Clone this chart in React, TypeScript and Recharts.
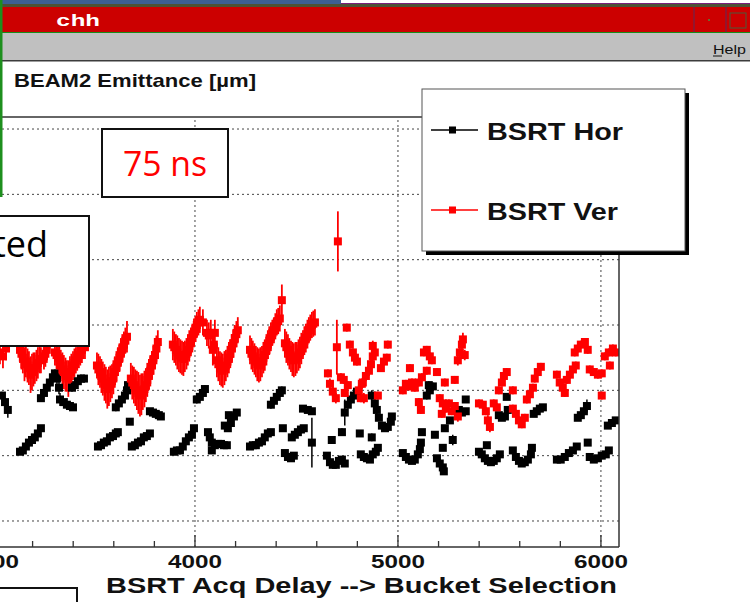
import React from 'react';
import { ScatterChart, Scatter, XAxis, YAxis, ErrorBar, ReferenceLine } from 'recharts';

// [delay, emittance (um), error]
const horPoints: [number, number, number][] = [
  [3049, 1.96, 0.03], [3064, 1.91, 0.03], [3078, 1.85, 0.06],
  [3138, 1.53, 0.02], [3152, 1.54, 0.02], [3167, 1.57, 0.02], [3182, 1.6, 0.02], [3197, 1.62, 0.02], [3211, 1.64, 0.02], [3226, 1.67, 0.02], [3241, 1.71, 0.02],
  [3241, 1.94, 0.03], [3256, 1.98, 0.03], [3270, 2.02, 0.03], [3285, 2.06, 0.03], [3300, 2.1, 0.03], [3310, 2.13, 0.03], [3320, 2.09, 0.05], [3330, 2.02, 0.05], [3335, 1.93, 0.05],
  [3354, 1.91, 0.02], [3369, 1.89, 0.02], [3384, 1.88, 0.02], [3399, 1.87, 0.02],
  [3394, 2.02, 0.03], [3408, 2.04, 0.03], [3423, 2.07, 0.03], [3438, 2.09, 0.03], [3453, 2.09, 0.03],
  [3522, 1.57, 0.02], [3537, 1.58, 0.02], [3551, 1.6, 0.02], [3566, 1.61, 0.02], [3581, 1.64, 0.02], [3596, 1.65, 0.02], [3610, 1.67, 0.02], [3620, 1.68, 0.02],
  [3610, 1.87, 0.03], [3625, 1.9, 0.03], [3640, 1.93, 0.03], [3655, 1.96, 0.03], [3665, 2.0, 0.03], [3670, 2.04, 0.03], [3679, 1.76, 0.02],
  [3689, 1.57, 0.02], [3704, 1.58, 0.02], [3719, 1.6, 0.02], [3734, 1.61, 0.02], [3748, 1.64, 0.02], [3763, 1.65, 0.02], [3778, 1.67, 0.02],
  [3778, 1.84, 0.02], [3793, 1.83, 0.02], [3807, 1.82, 0.02], [3822, 1.81, 0.02], [3832, 1.8, 0.02],
  [3896, 1.53, 0.02], [3911, 1.54, 0.02], [3926, 1.54, 0.02], [3940, 1.57, 0.02], [3955, 1.61, 0.02], [3970, 1.64, 0.02], [3985, 1.66, 0.02], [3995, 1.71, 0.02],
  [4009, 1.93, 0.03], [4024, 1.95, 0.03], [4039, 1.98, 0.03], [4049, 2.01, 0.03],
  [4064, 1.68, 0.02], [4073, 1.64, 0.02], [4083, 1.6, 0.02], [4083, 1.54, 0.02], [4098, 1.58, 0.02], [4113, 1.59, 0.02], [4128, 1.59, 0.02], [4142, 1.58, 0.02], [4157, 1.58, 0.02],
  [4147, 1.73, 0.02], [4162, 1.71, 0.02], [4167, 1.81, 0.02], [4177, 1.75, 0.02], [4192, 1.8, 0.02], [4206, 1.83, 0.02],
  [4271, 1.57, 0.02], [4285, 1.58, 0.02], [4300, 1.58, 0.02], [4315, 1.6, 0.02], [4330, 1.61, 0.02], [4344, 1.64, 0.02], [4359, 1.67, 0.02], [4374, 1.68, 0.02],
  [4433, 1.71, 0.02],
  [4374, 1.89, 0.03], [4389, 1.92, 0.03], [4403, 1.95, 0.03], [4418, 1.98, 0.03], [4428, 2.0, 0.03],
  [4443, 1.52, 0.02], [4458, 1.49, 0.02], [4473, 1.48, 0.02], [4487, 1.5, 0.02],
  [4477, 1.64, 0.02], [4492, 1.66, 0.02], [4507, 1.68, 0.02], [4522, 1.7, 0.02], [4536, 1.71, 0.02],
  [4532, 1.86, 0.02], [4556, 1.85, 0.02], [4576, 1.84, 0.02],
  [4576, 1.6, 0.19],
  [4650, 1.5, 0.02], [4665, 1.45, 0.02], [4679, 1.43, 0.02], [4694, 1.43, 0.02], [4709, 1.46, 0.02], [4724, 1.47, 0.02], [4738, 1.44, 0.02],
  [4674, 1.62, 0.03], [4724, 1.68, 0.03],
  [4738, 1.83, 0.1], [4753, 1.89, 0.03], [4768, 1.93, 0.03], [4783, 1.96, 0.03], [4798, 1.99, 0.03],
  [4812, 1.67, 0.02],
  [4817, 1.51, 0.02], [4832, 1.49, 0.02], [4847, 1.48, 0.02], [4862, 1.47, 0.02], [4876, 1.51, 0.02], [4891, 1.53, 0.02],
  [4871, 1.64, 0.03], [4901, 1.56, 0.03],
  [4871, 1.96, 0.04], [4886, 1.9, 0.04], [4896, 1.85, 0.04],
  [4906, 1.79, 0.02], [4921, 1.73, 0.02], [4936, 1.71, 0.02], [4950, 1.72, 0.02], [4965, 1.76, 0.02], [4970, 1.8, 0.02],
  [5024, 1.52, 0.02], [5039, 1.49, 0.02], [5054, 1.47, 0.02], [5069, 1.46, 0.02], [5083, 1.47, 0.02], [5098, 1.51, 0.02], [5108, 1.55, 0.02], [5113, 1.6, 0.02], [5118, 1.68, 0.02],
  [5142, 1.96, 0.03], [5152, 2.04, 0.03], [5157, 2.0, 0.03], [5172, 2.03, 0.03],
  [5182, 1.66, 0.02],
  [5192, 1.48, 0.02], [5206, 1.44, 0.02], [5221, 1.41, 0.02], [5226, 1.38, 0.02],
  [5221, 1.56, 0.02], [5231, 1.71, 0.02], [5256, 1.77, 0.02], [5270, 1.62, 0.04],
  [5300, 1.85, 0.02], [5315, 1.83, 0.02], [5334, 1.84, 0.02], [5334, 1.93, 0.02],
  [5399, 1.53, 0.02], [5413, 1.51, 0.02], [5428, 1.48, 0.02], [5443, 1.46, 0.02], [5458, 1.45, 0.02], [5472, 1.46, 0.02], [5487, 1.48, 0.02], [5502, 1.51, 0.02], [5438, 1.58, 0.02],
  [5497, 1.81, 0.02], [5512, 1.79, 0.02], [5527, 1.8, 0.02], [5541, 1.85, 0.02], [5536, 1.95, 0.02],
  [5566, 1.54, 0.02], [5581, 1.49, 0.02], [5596, 1.46, 0.02], [5610, 1.44, 0.02], [5625, 1.45, 0.02], [5640, 1.47, 0.02], [5655, 1.51, 0.02], [5660, 1.56, 0.02],
  [5669, 1.82, 0.02], [5684, 1.84, 0.02], [5699, 1.86, 0.02], [5714, 1.87, 0.02],
  [5783, 1.47, 0.02], [5802, 1.47, 0.02], [5822, 1.49, 0.02], [5842, 1.52, 0.02], [5862, 1.54, 0.02], [5881, 1.57, 0.02],
  [5886, 1.79, 0.02], [5901, 1.81, 0.02], [5916, 1.84, 0.02], [5931, 1.88, 0.05],
  [5935, 1.6, 0.02],
  [5945, 1.49, 0.02], [5965, 1.47, 0.02], [5985, 1.48, 0.02], [6004, 1.5, 0.02], [6024, 1.51, 0.02], [6039, 1.54, 0.02],
  [6034, 1.73, 0.02], [6054, 1.75, 0.02], [6073, 1.77, 0.02],
];

const verPoints: [number, number, number][] = [
  [3039, 2.29, 0.09], [3054, 2.26, 0.09], [3069, 2.32, 0.09],
  [3138, 2.31, 0.1], [3152, 2.25, 0.12], [3167, 2.22, 0.12], [3182, 2.17, 0.13], [3197, 2.14, 0.14], [3211, 2.17, 0.12], [3226, 2.21, 0.12], [3241, 2.23, 0.1], [3256, 2.26, 0.1], [3270, 2.31, 0.1],
  [3145, 2.28, 0.12], [3160, 2.2, 0.13], [3175, 2.19, 0.13], [3190, 2.12, 0.14], [3204, 2.16, 0.13], [3219, 2.19, 0.12], [3234, 2.24, 0.11], [3263, 2.28, 0.1],
  [3310, 2.29, 0.1], [3325, 2.25, 0.11], [3339, 2.19, 0.12], [3354, 2.14, 0.13], [3369, 2.11, 0.12], [3384, 2.14, 0.12], [3399, 2.19, 0.11], [3413, 2.23, 0.1], [3428, 2.27, 0.1], [3443, 2.31, 0.1], [3458, 2.33, 0.09],
  [3318, 2.27, 0.11], [3332, 2.22, 0.12], [3347, 2.16, 0.13], [3362, 2.12, 0.13], [3376, 2.09, 0.14], [3391, 2.16, 0.12], [3406, 2.21, 0.11], [3420, 2.25, 0.1], [3435, 2.29, 0.1], [3450, 2.34, 0.1],
  [3517, 2.19, 0.1], [3532, 2.14, 0.12], [3546, 2.09, 0.13], [3561, 2.04, 0.14], [3576, 2.03, 0.15], [3591, 2.07, 0.13], [3605, 2.14, 0.12], [3620, 2.22, 0.11], [3635, 2.29, 0.11], [3650, 2.35, 0.1], [3665, 2.41, 0.12],
  [3524, 2.16, 0.12], [3539, 2.11, 0.13], [3554, 2.06, 0.14], [3568, 2.01, 0.15], [3583, 2.05, 0.14], [3598, 2.1, 0.13], [3613, 2.18, 0.12], [3628, 2.25, 0.11], [3642, 2.32, 0.11], [3657, 2.38, 0.1],
  [3684, 2.09, 0.12], [3699, 2.04, 0.14], [3714, 2.0, 0.15], [3729, 1.96, 0.16], [3743, 1.99, 0.14], [3758, 2.04, 0.13], [3773, 2.12, 0.12], [3788, 2.19, 0.11], [3803, 2.27, 0.1], [3817, 2.37, 0.09],
  [3691, 2.06, 0.13], [3706, 2.02, 0.14], [3721, 1.98, 0.16], [3736, 1.97, 0.16], [3751, 2.01, 0.14], [3765, 2.08, 0.13], [3780, 2.15, 0.12], [3795, 2.23, 0.11], [3810, 2.32, 0.1],
  [3891, 2.35, 0.12], [3906, 2.31, 0.12], [3921, 2.27, 0.13], [3936, 2.25, 0.13], [3950, 2.26, 0.12], [3965, 2.31, 0.12], [3980, 2.37, 0.11], [3995, 2.44, 0.11], [4009, 2.5, 0.1], [4024, 2.54, 0.1], [4039, 2.52, 0.1],
  [3898, 2.33, 0.12], [3913, 2.29, 0.13], [3928, 2.26, 0.13], [3943, 2.24, 0.13], [3958, 2.28, 0.12], [3972, 2.34, 0.12], [3987, 2.4, 0.11], [4002, 2.47, 0.1], [4017, 2.52, 0.1],
  [4059, 2.44, 0.1], [4078, 2.44, 0.1], [4098, 2.44, 0.1], [4088, 2.31, 0.12], [4108, 2.23, 0.13], [4123, 2.17, 0.13], [4137, 2.15, 0.13], [4152, 2.19, 0.12], [4167, 2.25, 0.12], [4182, 2.32, 0.11], [4196, 2.4, 0.1], [4211, 2.46, 0.1],
  [4068, 2.42, 0.1], [4093, 2.35, 0.12], [4115, 2.2, 0.13], [4130, 2.16, 0.13], [4145, 2.17, 0.13], [4160, 2.22, 0.12], [4174, 2.28, 0.11], [4189, 2.36, 0.11], [4204, 2.43, 0.1],
  [4271, 2.31, 0.11], [4285, 2.26, 0.12], [4300, 2.22, 0.12], [4315, 2.19, 0.13], [4330, 2.22, 0.12], [4344, 2.27, 0.12], [4359, 2.35, 0.11], [4374, 2.41, 0.11], [4389, 2.46, 0.1], [4403, 2.52, 0.1], [4418, 2.55, 0.1], [4428, 2.69, 0.12],
  [4278, 2.28, 0.12], [4293, 2.24, 0.12], [4307, 2.2, 0.13], [4322, 2.2, 0.13], [4337, 2.25, 0.12], [4352, 2.31, 0.12], [4366, 2.38, 0.11], [4381, 2.44, 0.1], [4396, 2.49, 0.1], [4410, 2.53, 0.1],
  [4443, 2.36, 0.11], [4458, 2.31, 0.12], [4473, 2.26, 0.12], [4487, 2.23, 0.13], [4502, 2.25, 0.12], [4517, 2.29, 0.12], [4532, 2.35, 0.11], [4546, 2.4, 0.11], [4561, 2.46, 0.1], [4576, 2.5, 0.1], [4591, 2.52, 0.1],
  [4450, 2.33, 0.12], [4465, 2.28, 0.12], [4480, 2.24, 0.13], [4495, 2.24, 0.13], [4510, 2.27, 0.12], [4524, 2.32, 0.12], [4539, 2.38, 0.11], [4554, 2.43, 0.11], [4568, 2.48, 0.1], [4583, 2.51, 0.1],
  [4704, 3.14, 0.23], [4699, 2.33, 0.21], [4748, 2.48, 0.03],
  [4763, 2.35, 0.03], [4778, 2.29, 0.03], [4788, 2.25, 0.03], [4798, 2.22, 0.03],
  [4655, 2.13, 0.03], [4665, 2.05, 0.04], [4679, 1.99, 0.04], [4694, 1.94, 0.04],
  [4719, 2.1, 0.03], [4733, 2.08, 0.03], [4753, 2.04, 0.03], [4738, 1.98, 0.03],
  [4807, 2.0, 0.04], [4822, 2.05, 0.04], [4832, 1.94, 0.04], [4817, 1.94, 0.03],
  [4827, 2.06, 0.04], [4842, 2.11, 0.04], [4857, 2.15, 0.04], [4867, 2.2, 0.04], [4876, 2.26, 0.05], [4886, 2.29, 0.05], [4876, 2.34, 0.04],
  [4916, 2.17, 0.03], [4931, 2.22, 0.03], [4945, 2.25, 0.03], [4950, 2.35, 0.03], [4901, 1.96, 0.03],
  [5024, 2.0, 0.03], [5039, 2.05, 0.03], [5054, 2.03, 0.03], [5069, 2.06, 0.03], [5083, 2.02, 0.03], [5103, 2.06, 0.03], [5118, 2.1, 0.03], [5059, 2.17, 0.03],
  [5128, 2.29, 0.03], [5142, 2.31, 0.03], [5157, 2.26, 0.03], [5167, 2.23, 0.03], [5142, 2.15, 0.03], [5192, 2.14, 0.03],
  [5103, 1.91, 0.03], [5113, 1.85, 0.03],
  [5206, 1.94, 0.03], [5221, 1.9, 0.03], [5236, 1.86, 0.03], [5251, 1.9, 0.03], [5265, 1.84, 0.03], [5280, 1.88, 0.03], [5295, 1.8, 0.04], [5216, 1.82, 0.03],
  [5231, 2.06, 0.03], [5280, 2.08, 0.03],
  [5295, 2.23, 0.04], [5305, 2.29, 0.04], [5315, 2.35, 0.04], [5320, 2.39, 0.05], [5329, 2.27, 0.04],
  [5418, 1.89, 0.03], [5433, 1.84, 0.03], [5443, 1.77, 0.04], [5453, 1.72, 0.04], [5399, 1.9, 0.03], [5472, 1.9, 0.03], [5487, 1.87, 0.03],
  [5497, 2.0, 0.03], [5512, 2.06, 0.03], [5522, 2.11, 0.03], [5536, 2.14, 0.03], [5566, 2.0, 0.03],
  [5566, 1.86, 0.03], [5581, 1.82, 0.03], [5596, 1.77, 0.03], [5610, 1.74, 0.03], [5625, 1.79, 0.03],
  [5635, 1.93, 0.03], [5650, 1.97, 0.03], [5665, 2.02, 0.03], [5674, 2.09, 0.03], [5689, 2.14, 0.03], [5704, 2.18, 0.03],
  [5783, 2.12, 0.03], [5797, 2.06, 0.03], [5812, 2.02, 0.03], [5822, 1.98, 0.03], [5832, 2.08, 0.03], [5847, 2.12, 0.03], [5862, 2.16, 0.03], [5876, 2.19, 0.03],
  [5871, 2.29, 0.03], [5886, 2.32, 0.03], [5901, 2.35, 0.03], [5921, 2.37, 0.03], [5935, 2.31, 0.03],
  [5945, 2.16, 0.03], [5965, 2.14, 0.03], [5985, 2.12, 0.03], [6004, 2.13, 0.03], [6004, 1.96, 0.03],
  [6019, 2.26, 0.03], [6039, 2.29, 0.03], [6059, 2.32, 0.03], [6073, 2.29, 0.03], [6044, 2.19, 0.03],
];

const xTicks = [3000, 3200, 3400, 3600, 3800, 4000, 4200, 4400, 4600, 4800, 5000, 5200, 5400, 5600, 5800, 6000];
const gridX = [4000, 5000, 6000];
const gridY = [1.0, 1.5, 2.0, 2.5, 3.0, 3.5, 4.0];
const seriesNames = ['BSRT Hor', 'BSRT Ver'];
const seriesColors = ['#000000', '#ff0000'];

const horData = horPoints.map(([x, y, e]) => ({ x, y, e }));
const verData = verPoints.map(([x, y, e]) => ({ x, y, e }));

const SANS = '"Liberation Sans", Arial, sans-serif';
const MARK = 8;

function squareShape(color: string) {
  return (props: any) => (
    <rect x={props.cx - MARK / 2} y={props.cy - MARK / 2} width={MARK} height={MARK} fill={color} />
  );
}

function AxisTick({ x, y, payload }: any) {
  const major = payload.value % 1000 === 0;
  return (
    <g>
      <line x1={x} y1={y} x2={x} y2={y - (major ? 12 : 6)} stroke="#333" strokeWidth={1.3} />
      {major && (
        <text
          x={x - 27}
          y={y + 21}
          fontFamily={SANS}
          fontWeight="bold"
          fontSize={19}
          textLength={54}
          lengthAdjust="spacingAndGlyphs"
          fill="#111"
        >
          {payload.value}
        </text>
      )}
    </g>
  );
}

function AxisTitle() {
  return (
    <text
      x={206}
      y={593}
      fontFamily={SANS}
      fontWeight="bold"
      fontSize={22}
      textLength={511}
      lengthAdjust="spacingAndGlyphs"
      fill="#111"
    >
      BSRT Acq Delay --&gt; Bucket Selection
    </text>
  );
}

export default function App() {
  return (
    <div style={{ position: 'absolute', left: 0, top: 0, width: 750, height: 602, overflow: 'hidden', background: '#fff' }}>
      {/* window chrome */}
      <svg width={750} height={117} style={{ position: 'absolute', left: 0, top: 0 }}>
        <rect x={0} y={0} width={341} height={4} fill="#3d5f94" />
        <rect x={341} y={3} width={409} height={1} fill="#7a1f7a" />
        <rect x={0} y={4} width={750} height={3} fill="#4d5236" />
        <rect x={0} y={7} width={750} height={25} fill="#cc0000" />
        <line x1={694} y1={7} x2={694} y2={32} stroke="#5a2a5a" />
        <line x1={726} y1={7} x2={726} y2={32} stroke="#5a2a5a" />
        <rect x={708} y={19} width={2} height={2} fill="#6a6a30" />
        <rect x={730} y={13} width={16} height={15} fill="none" stroke="#4a5a3a" />
        <text x={56} y={26} fontFamily='"Liberation Mono", monospace' fontWeight="bold" fontSize={17} fill="#fff" textLength={44} lengthAdjust="spacingAndGlyphs">
          chh
        </text>
        <rect x={0} y={32} width={750} height={1} fill="#1a8c1a" />
        <rect x={0} y={33} width={750} height={27} fill="#c0c0c0" />
        <rect x={0} y={60} width={750} height={1.5} fill="#3c3c3c" />
        <text x={713} y={54} fontFamily={SANS} fontSize={13} fill="#111" textLength={33} lengthAdjust="spacingAndGlyphs">
          Help
        </text>
        <line x1={713} y1={56} x2={722} y2={56} stroke="#111" strokeWidth={1} />
        <text x={14} y={87} fontFamily={SANS} fontWeight="bold" fontSize={19} fill="#111" textLength={242} lengthAdjust="spacingAndGlyphs">
          BEAM2 Emittance [µm]
        </text>
      </svg>

      <div style={{ position: 'absolute', left: -100, top: 0 }}>
        <ScatterChart width={850} height={602} margin={{ top: 117, right: 131, bottom: 0, left: 92 }}>
          <XAxis
            dataKey="x"
            type="number"
            domain={[3000, 6089]}
            allowDataOverflow
            ticks={xTicks}
            interval={0}
            height={55}
            tickSize={0}
            tickMargin={0}
            tickLine={false}
            tick={<AxisTick />}
            axisLine={{ stroke: '#333', strokeWidth: 1.5 }}
            label={<AxisTitle />}
          />
          <YAxis dataKey="y" type="number" domain={[0.801, 4.092]} allowDataOverflow hide />
          {gridY.map((v) => (
            <ReferenceLine key={'y' + v} y={v} stroke="#444" strokeDasharray="2 3" strokeWidth={1} />
          ))}
          {gridX.map((v) => (
            <ReferenceLine key={'x' + v} x={v} stroke="#444" strokeDasharray="2 3" strokeWidth={1} />
          ))}
          <Scatter name={seriesNames[0]} data={horData} shape={squareShape(seriesColors[0])} isAnimationActive={false}>
            <ErrorBar dataKey="e" direction="y" width={0} stroke={seriesColors[0]} strokeWidth={1.5} />
          </Scatter>
          <Scatter name={seriesNames[1]} data={verData} shape={squareShape(seriesColors[1])} isAnimationActive={false}>
            <ErrorBar dataKey="e" direction="y" width={0} stroke={seriesColors[1]} strokeWidth={1.8} />
          </Scatter>
        </ScatterChart>
      </div>

      {/* frame, legend and pasted text boxes */}
      <svg width={750} height={602} style={{ position: 'absolute', left: 0, top: 0, pointerEvents: 'none' }}>
        <line x1={0} y1={117} x2={619} y2={117} stroke="#333" strokeWidth={1.5} />
        <line x1={619} y1={117} x2={619} y2={547} stroke="#333" strokeWidth={1.5} />
        <rect x={0} y={0} width={2.5} height={197} fill="#1e8f1e" />

        <rect x={426} y={93} width={263} height={162} fill="#000" />
        <rect x={422} y={89} width={263} height={162} fill="#fff" stroke="#555" strokeWidth={1} />
        {seriesNames.map((name, i) => {
          const cy = i === 0 ? 130 : 210;
          return (
            <g key={name}>
              <line x1={431} y1={cy} x2={478} y2={cy} stroke={seriesColors[i]} strokeWidth={1.3} />
              <rect x={449} y={cy - 3.5} width={7} height={7} fill={seriesColors[i]} />
              <text x={487} y={cy + 10} fontFamily={SANS} fontWeight="bold" fontSize={24} fill="#111" textLength={i === 0 ? 136 : 131} lengthAdjust="spacingAndGlyphs">
                {name}
              </text>
            </g>
          );
        })}

        <rect x={102} y={129} width={126} height={68} fill="#fff" stroke="#111" strokeWidth={2} />
        <text x={123} y={176} fontFamily='"Open Sans", "Noto Sans", sans-serif' fontSize={34} fill="#ff0000" textLength={84} lengthAdjust="spacingAndGlyphs">
          75 ns
        </text>

        <rect x={-3} y={216} width={92} height={130} fill="#fff" stroke="#111" strokeWidth={2} />
        <text x={48} y={257} textAnchor="end" fontFamily='"Open Sans", "Noto Sans", sans-serif' fontSize={36} fill="#000">
          ted
        </text>

        <rect x={-3} y={588} width={80} height={20} fill="#fff" stroke="#111" strokeWidth={2} />
      </svg>
    </div>
  );
}
